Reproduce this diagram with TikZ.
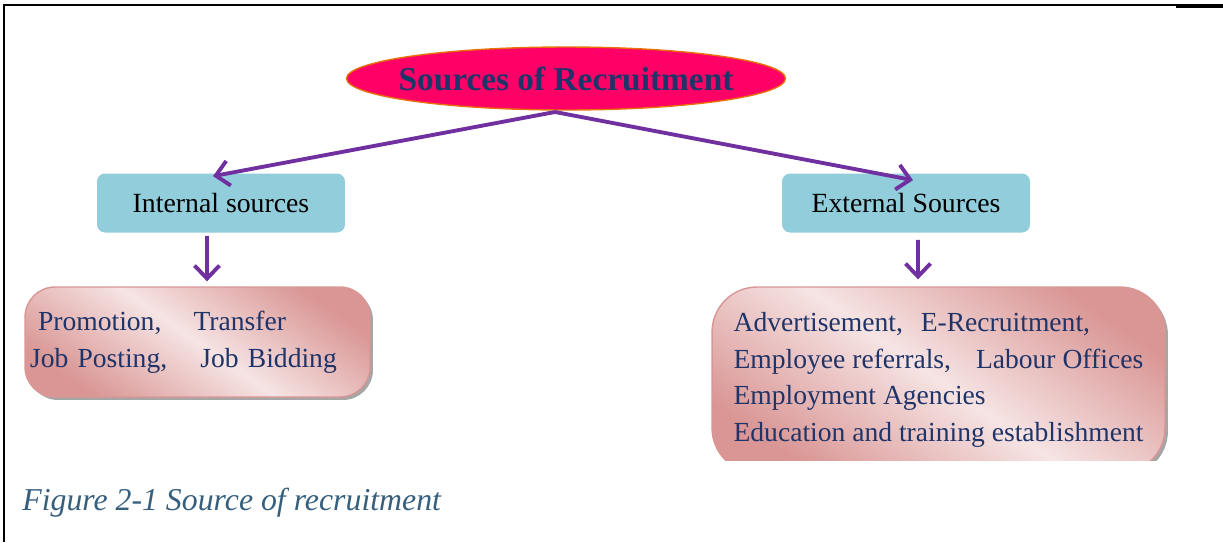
\documentclass[tikz,border=0pt]{standalone}
\usepackage{fontspec}
\setmainfont{Liberation Serif}
\usepackage{tikz}
\usetikzlibrary{shapes.geometric, arrows.meta, shadows}
\usepackage{xcolor}
\definecolor{rootpink}{HTML}{FF0066}
\definecolor{rootedge}{HTML}{E8700A}
\definecolor{navy}{HTML}{1F3468}
\definecolor{srcblue}{HTML}{92CDDC}
\definecolor{listdark}{HTML}{D99694}
\definecolor{listlight}{HTML}{F6E4E4}
\definecolor{arrowpurple}{HTML}{7030A0}
\definecolor{capblue}{HTML}{365F7E}
\tikzset{
  root/.style={
    ellipse,
    minimum width=8.78cm,
    minimum height=1.26cm,
    inner xsep=-0.25cm,
    inner ysep=0pt,
    draw=rootedge,
    line width=0.8pt,
    fill=rootpink,
    text=navy,
    font=\fontsize{19}{22}\selectfont\bfseries
    },
  source/.style={
    rectangle,
    rounded corners=0.16cm,
    minimum width=4.96cm,
    minimum height=1.18cm,
    fill=srcblue,
    text=black,
    font=\fontsize{15.8}{19}\selectfont
    },
  list/.style={
    rectangle,
    rounded corners=0.6cm,
    align=left,
    draw=listdark,
    line width=0.8pt,
    top color=listdark,
    bottom color=listdark,
    middle color=listlight,
    shading angle=-35,
    drop shadow={shadow xshift=0.06cm, shadow yshift=-0.06cm, fill=black, opacity=0.35},
    text=navy,
    font=\fontsize{15.7}{20.8}\selectfont
    },
  arrow/.style={-{Straight Barb[length=0.26cm,width=0.5cm]}, line width=2.2pt, draw=arrowpurple},
}

\begin{document}
\begin{tikzpicture}[x=0.02cm, y=-0.02cm]
    \tikzstyle{annot} = [anchor=base west, inner sep=0pt, text=capblue, font=\fontsize{18.1}{22}\selectfont\itshape]
    \useasboundingbox (0,0) rectangle (1223,542);

    % Draw the page frame
    \draw[line width=1.2pt] (4,542) -- (4,5) -- (1176,5);
    \draw[line width=2.2pt] (1176,6) -- (1223,6);

    \begin{scope}
    \clip (0,0) rectangle (1223,460);

    % Draw the root node
    \node[root] (root) at (566,78.5) {Sources of Recruitment};

    % Draw the two source nodes
    \node[source] (int) at (221,203) {Internal sources};
    \node[source] (ext) at (906,203) {External Sources};

    % Draw the list nodes below them
    \node[list, minimum width=6.9cm, minimum height=2.2cm, text width=6.7cm, inner xsep=0.1cm] (int-list) at (197.5,342)
        {\hspace*{0.16cm}Promotion,\hspace{0.46cm} Transfer\\Job Posting,\hspace{0.48cm} Job Bidding};
    \node[list, rounded corners=0.9cm, minimum width=9.06cm, minimum height=3.72cm] (ext-list) at (938.5,380)
        {Advertisement,\hspace{0.22cm} E-Recruitment,\\Employee referrals,\hspace{0.36cm} Labour Offices\\Employment Agencies\\Education and training establishment};

    % Connect the root with the sources
    \coordinate (split) at (555,112);
    \draw[arrow] (split) -- ([xshift=-0.16cm,yshift=-0.06cm]int.north);
    \draw[arrow] (split) -- ([xshift=0.14cm,yshift=-0.14cm]ext.north);

    % Connect each source with its list
    \draw[arrow] ([xshift=-0.28cm,yshift=-0.06cm]int.south) -- ([xshift=0.19cm,yshift=0.1cm]int-list.north);
    \draw[arrow] ([xshift=0.24cm,yshift=-0.14cm]ext.south) -- ([xshift=-0.41cm,yshift=0.14cm]ext-list.north);
    \end{scope}

    % Caption
    \node[annot] (cap) at (22,510) {Figure 2-1 Source of recruitment};
\end{tikzpicture}
\end{document}
